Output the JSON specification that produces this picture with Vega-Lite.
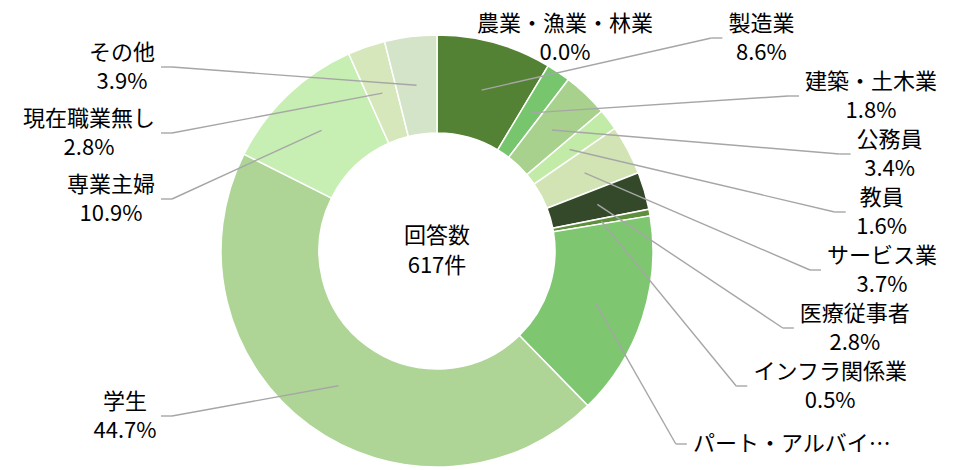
{
  "$schema": "https://vega.github.io/schema/vega-lite/v6.json",
  "width": 959,
  "height": 470,
  "padding": 0,
  "autosize": {"type": "fit", "contains": "padding"},
  "background": "white",
  "config": {"view": {"stroke": null}, "font": "Noto Sans CJK JP", "text": {"font": "Noto Sans CJK JP"}},
  "data": {"values": [
    {"category": "農業・漁業・林業", "pct": 0.0, "order": 1},
    {"category": "製造業", "pct": 8.6, "order": 2},
    {"category": "建築・土木業", "pct": 1.8, "order": 3},
    {"category": "公務員", "pct": 3.4, "order": 4},
    {"category": "教員", "pct": 1.6, "order": 5},
    {"category": "サービス業", "pct": 3.7, "order": 6},
    {"category": "医療従事者", "pct": 2.8, "order": 7},
    {"category": "インフラ関係業", "pct": 0.5, "order": 8},
    {"category": "パート・アルバイト", "pct": 15.3, "order": 9},
    {"category": "学生", "pct": 44.7, "order": 10},
    {"category": "専業主婦", "pct": 10.9, "order": 11},
    {"category": "現在職業無し", "pct": 2.8, "order": 12},
    {"category": "その他", "pct": 3.9, "order": 13}
  ]},
  "layer": [
    {
      "mark": {"type": "arc", "outerRadius": 216, "innerRadius": 118, "stroke": "white", "strokeWidth": 1.5},
      "encoding": {
        "x": {"datum": 0, "type": "quantitative", "scale": {"domain": [-437, 522], "nice": false, "zero": false}, "axis": null},
        "y": {"datum": 0, "type": "quantitative", "scale": {"domain": [-251, 219], "nice": false, "zero": false, "reverse": true}, "axis": null},
        "theta": {"field": "pct", "type": "quantitative", "stack": true},
        "order": {"field": "order", "type": "quantitative", "sort": "ascending"},
        "color": {
          "field": "category", "type": "nominal", "legend": null,
          "scale": {
            "domain": ["農業・漁業・林業", "製造業", "建築・土木業", "公務員", "教員", "サービス業", "医療従事者", "インフラ関係業", "パート・アルバイト", "学生", "専業主婦", "現在職業無し", "その他"],
            "range": ["#4F7A2E", "#548235", "#77C66E", "#A9D18E", "#C1EBA7", "#D3E4B4", "#34492A", "#5E8F3C", "#7EC770", "#AED596", "#C7EEB3", "#D6E7BC", "#D4E4C8"]
          }
        }
      }
    },
    {
      "data": {"values": [{"title": "回答数", "count": 617}]},
      "transform": [{"calculate": "datum.title + '\\n' + datum.count + '件'", "as": "center"}],
      "mark": {"type": "text", "fontSize": 22, "lineHeight": 30, "lineBreak": "\n", "align": "center", "baseline": "middle", "dy": -15, "color": "#000000"},
      "encoding": {
        "x": {"datum": 0, "type": "quantitative", "scale": {"domain": [-437, 522], "nice": false, "zero": false}, "axis": null},
        "y": {"datum": 0, "type": "quantitative", "scale": {"domain": [-251, 219], "nice": false, "zero": false, "reverse": true}, "axis": null},
        "text": {"field": "center", "type": "nominal"}
      }
    },
    {
      "transform": [
        {"window": [{"op": "sum", "field": "pct", "as": "cum"}], "sort": [{"field": "order"}], "frame": [null, 0]},
        {"joinaggregate": [{"op": "sum", "field": "pct", "as": "total"}]},
        {"calculate": "2 * PI * (datum.cum - datum.pct / 2) / datum.total", "as": "mid"},
        {"calculate": "datum.mid < PI ? 1 : -1", "as": "side"},
        {"calculate": "datum.pct > 0 ? datum.side : 0", "as": "grp"},
        {"calculate": "datum.side * datum.order", "as": "seq"},
        {"calculate": "datum.side > 0 ? 58 : 66", "as": "gap"},
        {"calculate": "datum.side > 0 ? clamp(-300 * cos(datum.mid), -213, 193) : clamp(-300 * cos(datum.mid), -184, 165)", "as": "ideal"},
        {"window": [{"op": "row_number", "as": "i"}], "groupby": ["grp"], "sort": [{"field": "seq"}]},
        {"calculate": "datum.ideal - datum.i * datum.gap", "as": "adj"},
        {"window": [{"op": "max", "field": "adj", "as": "cm"}], "groupby": ["grp"], "sort": [{"field": "seq"}], "frame": [null, 0]},
        {"calculate": "datum.cm + datum.i * datum.gap", "as": "ey"},
        {"calculate": "max(min(length(datum.category), 9) * 22, 60)", "as": "w"},
        {"calculate": "datum.side > 0 ? min(403 - (datum.ey < -90 ? 0.0085 : 0.00205) * pow(datum.ey + 90, 2), 500 - datum.w - 17) : min(265, 422 - datum.w - 17)", "as": "exa"},
        {"calculate": "datum.side * datum.exa", "as": "ex"},
        {"calculate": "datum.side * (datum.exa + 11)", "as": "endx"},
        {"calculate": "datum.pct > 0 ? datum.side * (datum.exa + 17 + datum.w / 2) : 40 + datum.w / 2", "as": "cx"},
        {"calculate": "167 * sin(datum.mid)", "as": "px"},
        {"calculate": "-167 * cos(datum.mid)", "as": "py"},
        {"calculate": "length(datum.category) > 8 ? substring(datum.category, 0, 8) + '…' : datum.category + '\\n' + format(datum.pct, '.1f') + '%'", "as": "lbl"},
        {"calculate": "indexof(datum.lbl, '\\n') >= 0 ? datum.ey - 14.5 : datum.ey", "as": "ly"}
      ],
      "layer": [
        {
          "transform": [{"filter": "datum.pct > 0"}],
          "mark": {"type": "rule", "color": "#A6A6A6", "strokeWidth": 1.4},
          "encoding": {
            "x": {"field": "px", "type": "quantitative", "scale": {"domain": [-437, 522], "nice": false, "zero": false}, "axis": null},
            "y": {"field": "py", "type": "quantitative", "scale": {"domain": [-251, 219], "nice": false, "zero": false, "reverse": true}, "axis": null},
            "x2": {"field": "ex"},
            "y2": {"field": "ey"}
          }
        },
        {
          "transform": [{"filter": "datum.pct > 0"}],
          "mark": {"type": "rule", "color": "#A6A6A6", "strokeWidth": 1.4},
          "encoding": {
            "x": {"field": "ex", "type": "quantitative", "scale": {"domain": [-437, 522], "nice": false, "zero": false}, "axis": null},
            "y": {"field": "ey", "type": "quantitative", "scale": {"domain": [-251, 219], "nice": false, "zero": false, "reverse": true}, "axis": null},
            "x2": {"field": "endx"},
            "y2": {"field": "ey"}
          }
        },
        {
          "mark": {"type": "text", "fontSize": 22, "lineHeight": 29, "lineBreak": "\n", "align": "center", "baseline": "middle", "color": "#000000"},
          "encoding": {
            "x": {"field": "cx", "type": "quantitative", "scale": {"domain": [-437, 522], "nice": false, "zero": false}, "axis": null},
            "y": {"field": "ly", "type": "quantitative", "scale": {"domain": [-251, 219], "nice": false, "zero": false, "reverse": true}, "axis": null},
            "text": {"field": "lbl", "type": "nominal"}
          }
        }
      ]
    }
  ]
}
